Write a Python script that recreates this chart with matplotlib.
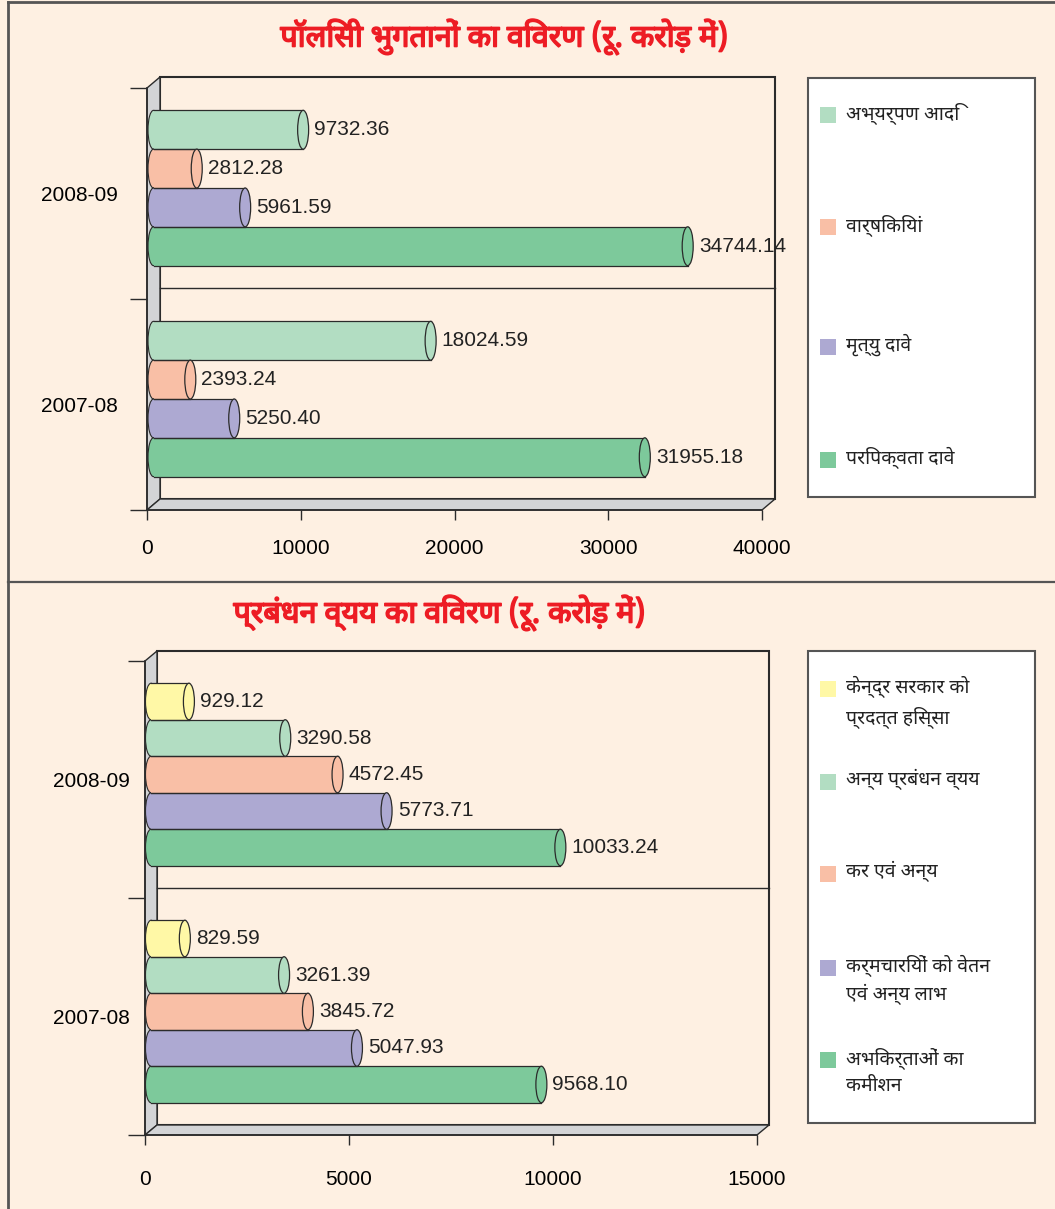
import matplotlib
matplotlib.use("Agg")
import matplotlib.pyplot as plt
import matplotlib.patheffects as pe
from matplotlib import font_manager, ft2font
from matplotlib.patches import Rectangle, Polygon, Ellipse
from matplotlib.transforms import ScaledTranslation

# ---- data ----
years = ["2008-09", "2007-08"]

pay_title = "पॉलिसी भुगतानों का विवरण (रू. करोड़ में)"
pay_series = ["अभ्यर्पण आदि", "वार्षिकियां", "मृत्यु दावे", "परिपक्वता दावे"]
pay_2008 = [9732.36, 2812.28, 5961.59, 34744.14]
pay_2007 = [18024.59, 2393.24, 5250.40, 31955.18]
pay_ticks = [0, 10000, 20000, 30000, 40000]

exp_title = "प्रबंधन व्यय का विवरण (रू. करोड़ में)"
exp_series = ["केन्द्र सरकार को\nप्रदत्त हिस्सा", "अन्य प्रबंधन व्यय", "कर एवं अन्य",
              "कर्मचारियों को वेतन\nएवं अन्य लाभ", "अभिकर्ताओं का\nकमीशन"]
exp_2008 = [929.12, 3290.58, 4572.45, 5773.71, 10033.24]
exp_2007 = [829.59, 3261.39, 3845.72, 5047.93, 9568.10]
exp_ticks = [0, 5000, 10000, 15000]

pay_colors = ["#B2DDC2", "#F9BFA6", "#ADA9D2", "#7DC99B"]
exp_colors = ["#FFF8A6", "#B2DDC2", "#F9BFA6", "#ADA9D2", "#7DC99B"]

BG = "#FEF0E2"
WALL = "#D3D4D6"
EDGE = "#2B2B2B"
RED = "#ED1C24"


def find_deva():
    # look for any installed font that has Devanagari glyphs
    good = []
    for f in font_manager.fontManager.ttflist:
        try:
            if 0x0915 in ft2font.FT2Font(f.fname).get_charmap():
                good.append(f.name)
        except Exception:
            pass
    for pref in ["Noto Sans Devanagari", "Lohit Devanagari", "FreeSans", "Mukta"]:
        if pref in good:
            return pref
    return good[0] if good else None


deva = find_deva()
hindi_fam = ([deva] if deva else []) + ["DejaVu Sans"]
num_fam = ["Liberation Sans Narrow", "Liberation Sans", "DejaVu Sans"]

W, H = 1055, 1209
fig = plt.figure(figsize=(W / 100, H / 100), dpi=100, facecolor=BG)

# overlay in pixel coordinates for frame, walls, legends, titles
ov = fig.add_axes([0, 0, 1, 1], zorder=0)
ov.set_xlim(0, W)
ov.set_ylim(H, 0)
ov.axis("off")

ov.plot([8, 8], [2, H], color="#555555", lw=2)
ov.plot([8, W], [2, 2], color="#555555", lw=2)
ov.plot([8, W], [582, 582], color="#555555", lw=1.6)


def panel(x0, x1, yt, yb, dx, dy, xmax, ticks, groups, colors, bar_h, ypad, xpad,
          title, title_xy, series, leg_box, leg_y):
    # back wall, left wall, floor
    ov.add_patch(Rectangle((x0 + dx, yt - dy), x1 - x0, yb - yt, facecolor=BG,
                           edgecolor=EDGE, lw=1.5, zorder=1))
    ov.add_patch(Polygon([(x0, yb), (x0, yt), (x0 + dx, yt - dy), (x0 + dx, yb - dy)],
                         facecolor=WALL, edgecolor=EDGE, lw=1, zorder=2))
    ov.add_patch(Polygon([(x0, yb), (x1, yb), (x1 + dx, yb - dy), (x0 + dx, yb - dy)],
                         facecolor=WALL, edgecolor=EDGE, lw=1, zorder=2))
    ym = (yt + yb) / 2
    ov.plot([x0 + dx, x1 + dx], [ym - dy, ym - dy], color=EDGE, lw=1, zorder=3)

    ax = fig.add_axes([x0 / W, 1 - yb / H, (x1 - x0) / W, (yb - yt) / H], zorder=2)
    ax.patch.set_alpha(0)
    ax.set_xlim(0, xmax)
    ax.set_ylim(len(groups) - 0.5, -0.5)
    for s in ["top", "right"]:
        ax.spines[s].set_visible(False)
    for s in ["bottom", "left"]:
        ax.spines[s].set_color(EDGE)
        ax.spines[s].set_linewidth(1.2)

    ax.set_xticks(ticks)
    ax.set_xticklabels([str(t) for t in ticks], family=num_fam, fontsize=15)
    ax.tick_params(axis="x", length=7, width=1, color=EDGE, pad=xpad)
    ax.set_yticks([i - 0.5 for i in range(len(groups) + 1)])
    ax.set_yticklabels([])
    ax.tick_params(axis="y", length=12, width=1, color=EDGE)
    ax.set_yticks(range(len(groups)), minor=True)
    ax.set_yticklabels(years, minor=True, family=num_fam, fontsize=15)
    ax.tick_params(axis="y", which="minor", length=0, pad=ypad)

    # bars sit at mid depth
    shift = ax.transData + ScaledTranslation(dx / 200, dy / 200, fig.dpi_scale_trans)
    cap_w = 11 * xmax / (x1 - x0)
    n = len(colors)
    for gi, vals in enumerate(groups):
        for i, v in enumerate(vals):
            y = gi + (i - (n - 1) / 2) * bar_h
            c = colors[i]
            ax.add_patch(Ellipse((0, y), cap_w, bar_h, facecolor=c, edgecolor=EDGE,
                                 lw=0.8, transform=shift, clip_on=False, zorder=3))
            ax.barh(y, v, height=bar_h, color=c, lw=0, transform=shift, zorder=4)
            ax.plot([0, v], [y - bar_h / 2] * 2, color=EDGE, lw=0.9, transform=shift, zorder=5)
            ax.plot([0, v], [y + bar_h / 2] * 2, color=EDGE, lw=0.9, transform=shift, zorder=5)
            ax.add_patch(Ellipse((v, y), cap_w, bar_h, facecolor=c, edgecolor=EDGE,
                                 lw=0.9, transform=shift, clip_on=False, zorder=6))
            ax.annotate(f"{v:.2f}", xy=(v, y), xycoords=shift, xytext=(8, 0),
                        textcoords="offset points", va="center", ha="left",
                        family=num_fam, fontsize=15, color="#222222")

    ov.text(title_xy[0], title_xy[1], title, color=RED, fontsize=22, fontweight="bold",
            family=hindi_fam, ha="center", va="center",
            path_effects=[pe.withStroke(linewidth=1.2, foreground=RED)])

    lx0, ly0, lx1, ly1 = leg_box
    ov.add_patch(Rectangle((lx0, ly0), lx1 - lx0, ly1 - ly0, facecolor="white",
                           edgecolor="#555555", lw=1.5, zorder=1))
    for lab, c, y in zip(series, colors, leg_y):
        ov.add_patch(Rectangle((820, y - 8), 16, 16, facecolor=c, lw=0, zorder=2))
        ov.text(846, y - 13, lab, family=hindi_fam, fontsize=14, color="#222222",
                ha="left", va="top", linespacing=1.45, zorder=3)


panel(147, 762, 88, 510, 13, 11, 40000, pay_ticks, [pay_2008, pay_2007], pay_colors, 0.184, 21, 14,
      pay_title, (505, 37), pay_series, (808, 78, 1035, 497), [115, 227, 347, 460])
panel(145, 757, 661, 1135, 12, 10, 15000, exp_ticks, [exp_2008, exp_2007], exp_colors, 0.154, 11, 18,
      exp_title, (440, 613), exp_series, (808, 651, 1035, 1123), [689, 782, 874, 968, 1060])

fig.savefig("out.png", dpi=100, facecolor=BG)
